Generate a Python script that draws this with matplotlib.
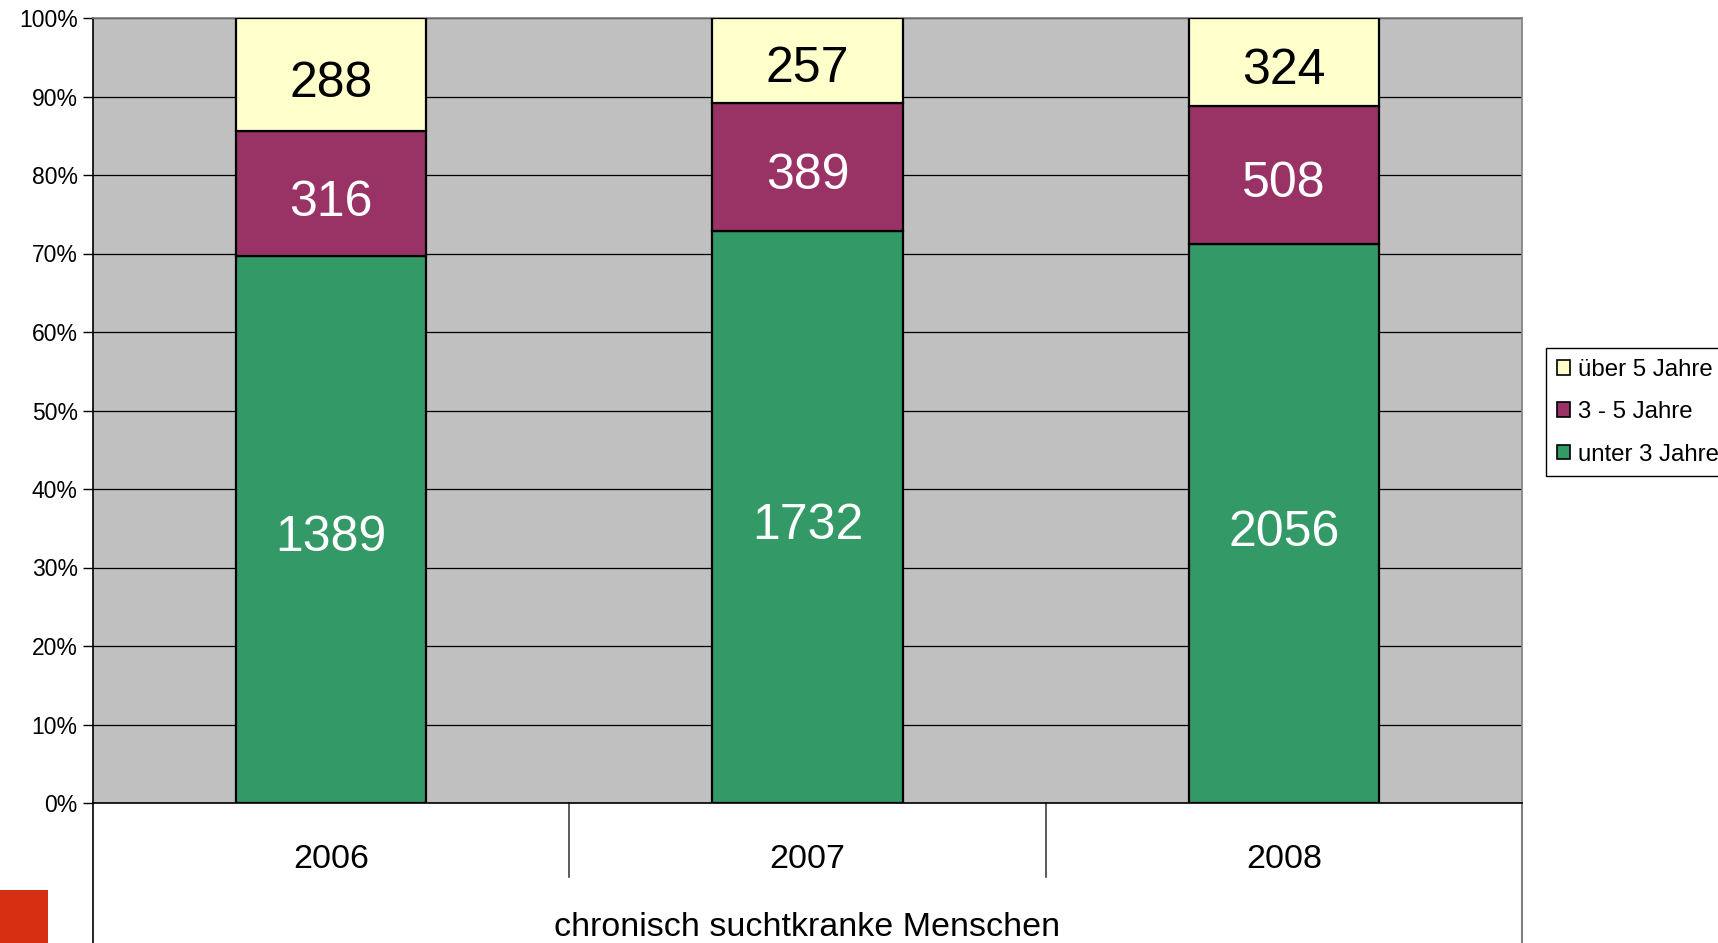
import matplotlib
matplotlib.use("Agg")
import matplotlib.pyplot as plt
from matplotlib.patches import Rectangle, Patch
import numpy as np

plt.rcParams['font.family'] = ['Liberation Sans', 'DejaVu Sans']

years = ["2006", "2007", "2008"]
series_names = ["unter 3 Jahre", "3 - 5 Jahre", "über 5 Jahre"]
unter3 = [1389, 1732, 2056]
drei_fuenf = [316, 389, 508]
ueber5 = [288, 257, 324]
colors = ["#339966", "#993366", "#FFFFCC"]
text_colors = ["white", "white", "black"]
yticks = [0, 10, 20, 30, 40, 50, 60, 70, 80, 90, 100]
xlabel = "chronisch suchtkranke Menschen"

W, H = 1718, 943
fig = plt.figure(figsize=(W / 100, H / 100), dpi=100)
ax = fig.add_axes([93 / W, 1 - 803 / H, 1429 / W, 785 / H])
ax.set_facecolor("#C0C0C0")

data = np.array([unter3, drei_fuenf, ueber5], dtype=float)
totals = data.sum(axis=0)
pct = data / totals * 100
x = np.arange(len(years))
bottom = np.zeros(len(years))
for i, name in enumerate(series_names):
    ax.bar(x, pct[i], 0.4, bottom=bottom, color=colors[i], edgecolor="black",
           linewidth=1.6, label=name, zorder=3)
    for j in range(len(years)):
        ax.annotate(f"{int(data[i][j])}", (x[j], bottom[j] + pct[i][j] / 2),
                    xytext=(0, -6.5), textcoords="offset points",
                    ha="center", va="center", fontsize=36, color=text_colors[i], zorder=4)
    bottom += pct[i]

ax.set_xlim(-0.5, len(years) - 0.5)
ax.set_ylim(0, 100)
ax.set_yticks(yticks)
ax.set_yticklabels([f"{t}%" for t in yticks], fontsize=16.5)
ax.yaxis.grid(True, color="black", linewidth=0.9, zorder=1)
ax.set_axisbelow(True)
ax.tick_params(axis="y", length=7, width=1, color="black", pad=4)
ax.set_xticks([])

for s in ["top", "right"]:
    ax.spines[s].set_color("#808080")
    ax.spines[s].set_linewidth(1.2)
ax.spines["left"].set_color("black")
ax.spines["bottom"].set_color("black")
ax.spines["left"].set_linewidth(1.2)
ax.spines["bottom"].set_linewidth(1.2)

tr = ax.get_xaxis_transform()
# category table lines below axis
for xd in [0.5, 1.5]:
    ax.plot([xd, xd], [0, -74 / 785], transform=tr, color="#404040", lw=1.2, clip_on=False)
ax.plot([-0.5, -0.5], [0, -(943 - 803) / 785], transform=tr, color="black", lw=1.2, clip_on=False)
ax.plot([2.5, 2.5], [0, -(943 - 803) / 785], transform=tr, color="#808080", lw=1.5, clip_on=False)

for j, yr in enumerate(years):
    ax.text(x[j], -56 / 785, yr, transform=tr, ha="center", va="center", fontsize=24.5)
ax.text(1, -124 / 785, xlabel, transform=tr, ha="center", va="center", fontsize=24.5)

handles = [Patch(facecolor=colors[i], edgecolor="black", linewidth=1.2) for i in range(3)][::-1]
leg = fig.legend(handles, series_names[::-1], loc="upper left",
                 bbox_to_anchor=(1546 / W, 1 - 348 / H), fontsize=17.3,
                 frameon=True, fancybox=False, edgecolor="black", framealpha=1,
                 handlelength=0.55, handleheight=0.55, handletextpad=0.35,
                 labelspacing=0.85, borderpad=0.45, borderaxespad=0)
leg.get_frame().set_linewidth(1.0)

fig.patches.append(Rectangle((0, 0), 48 / W, 53 / H, transform=fig.transFigure,
                             facecolor="#D63013", edgecolor="none"))

fig.savefig("out.png", dpi=100)
